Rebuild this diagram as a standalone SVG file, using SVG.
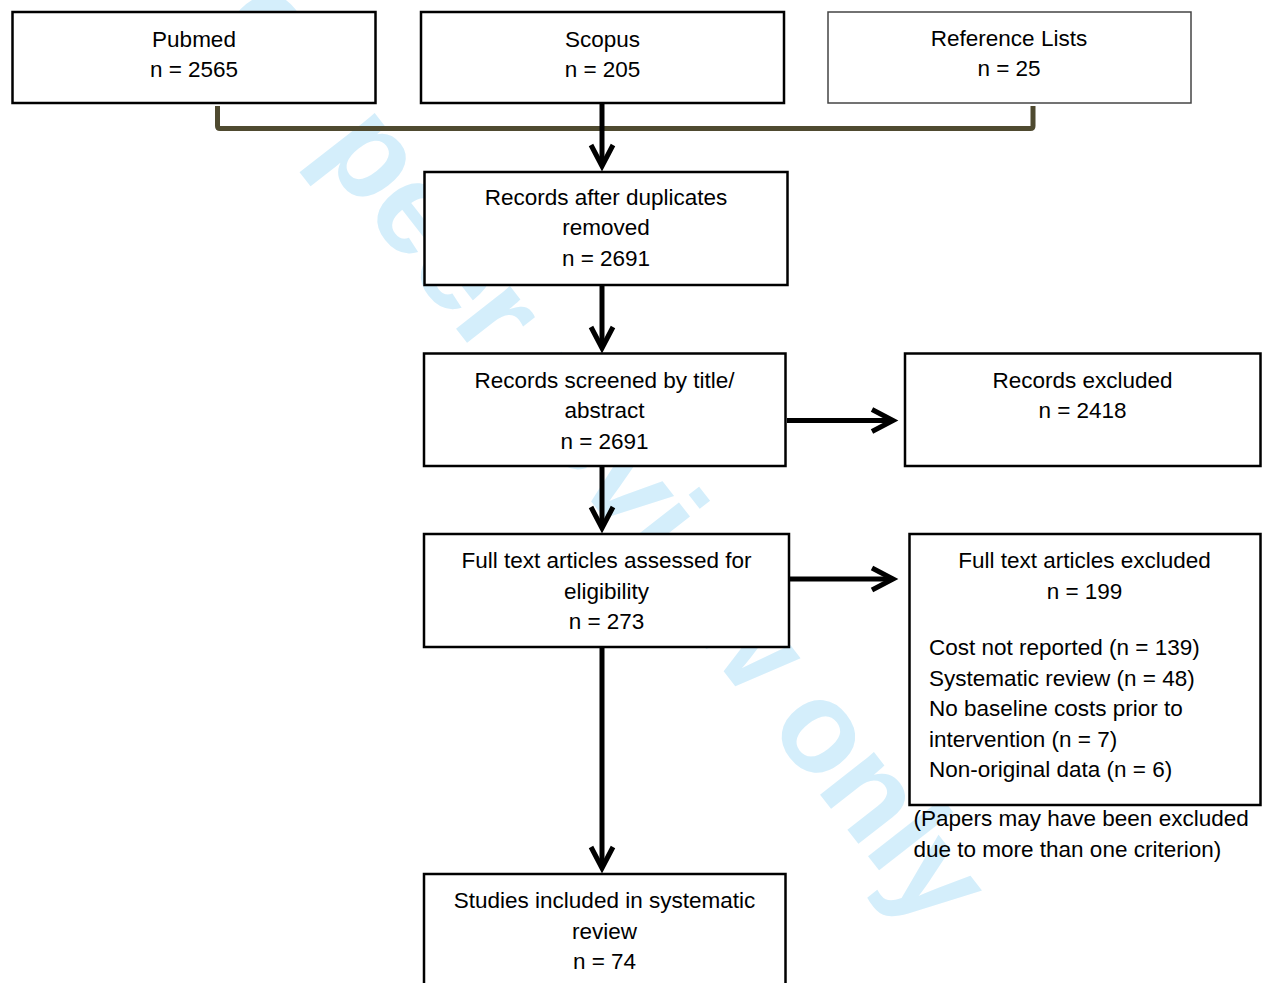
<svg xmlns="http://www.w3.org/2000/svg" width="1263" height="983" viewBox="0 0 1263 983">
<style>
.box{fill:#fff;stroke:#000;stroke-width:2.5}
.box2{fill:#fff;stroke:#444;stroke-width:1.5}
.t{font-family:"Liberation Sans",Arial,sans-serif;font-size:22.5px;fill:#000}
.c{text-anchor:middle}
.wm{font-family:"Liberation Sans",Arial,sans-serif;font-weight:bold;font-size:130px;fill:#d4eefb}
.ln{fill:none;stroke:#000;stroke-width:5}
.br{fill:none;stroke:#4f4a30;stroke-width:5;stroke-linejoin:round}
</style>
<defs>
<marker id="ah" markerUnits="userSpaceOnUse" viewBox="-30 -15 36 30" markerWidth="36" markerHeight="30" refX="0" refY="0" orient="auto" overflow="visible">
<path d="M-21,-11 L0,0 L-21,11" fill="none" stroke="#000" stroke-width="5" stroke-linejoin="miter"/>
</marker>
</defs>
<rect width="1263" height="983" fill="#fff"/>
<text class="wm" transform="translate(168,-40) rotate(52)" textLength="1235">For peer review only</text>
<g id="connectors">
<path class="br" d="M217.5,106 V126 Q217.5,128.5 220,128.5 H1030.5 Q1033,128.5 1033,126 V106"/>
<line class="ln" x1="602" y1="103" x2="602" y2="166" marker-end="url(#ah)"/>
<line class="ln" x1="602" y1="286" x2="602" y2="348" marker-end="url(#ah)"/>
<line class="ln" x1="602" y1="467" x2="602" y2="528" marker-end="url(#ah)"/>
<line class="ln" x1="602" y1="648" x2="602" y2="868" marker-end="url(#ah)"/>
<line class="ln" x1="787" y1="420.5" x2="893" y2="420.5" marker-end="url(#ah)"/>
<line class="ln" x1="790" y1="579" x2="893" y2="579" marker-end="url(#ah)"/>
</g>
<g id="pubmed"><rect class="box" x="12.5" y="12" width="363" height="91"/>
<text class="t c" x="194" y="46.5">Pubmed</text><text class="t c" x="194" y="77.3">n = 2565</text></g>
<g id="scopus"><rect class="box" x="421" y="12" width="363" height="91"/>
<text class="t c" x="602.5" y="46.5">Scopus</text><text class="t c" x="602.5" y="77.3">n = 205</text></g>
<g id="reflists"><rect class="box2" x="828" y="12" width="363" height="91"/>
<text class="t c" x="1009" y="45.5">Reference Lists</text><text class="t c" x="1009" y="76.3">n = 25</text></g>
<g id="dedup"><rect class="box" x="424.5" y="172" width="363" height="113"/>
<text class="t c" x="606" y="205">Records after duplicates</text><text class="t c" x="606" y="235">removed</text><text class="t c" x="606" y="265.5">n = 2691</text></g>
<g id="screened"><rect class="box" x="424" y="353.5" width="361.5" height="112.5"/>
<text class="t c" x="604.5" y="388">Records screened by title/</text><text class="t c" x="604.5" y="418">abstract</text><text class="t c" x="604.5" y="448.5">n = 2691</text></g>
<g id="excluded"><rect class="box" x="905" y="353.5" width="355.5" height="112.5"/>
<text class="t c" x="1082.5" y="388">Records excluded</text><text class="t c" x="1082.5" y="418">n = 2418</text></g>
<g id="fulltext"><rect class="box" x="424" y="534" width="365" height="113"/>
<text class="t c" x="606.5" y="568">Full text articles assessed for</text><text class="t c" x="606.5" y="598.5">eligibility</text><text class="t c" x="606.5" y="629">n = 273</text></g>
<g id="ftexcluded"><rect class="box" x="909.5" y="534" width="351" height="271"/>
<text class="t c" x="1084.5" y="568">Full text articles excluded</text><text class="t c" x="1084.5" y="598.5">n = 199</text>
<text class="t" x="929" y="655">Cost not reported (n = 139)</text>
<text class="t" x="929" y="685.5">Systematic review (n = 48)</text>
<text class="t" x="929" y="716">No baseline costs prior to</text>
<text class="t" x="929" y="746.5">intervention (n = 7)</text>
<text class="t" x="929" y="777">Non-original data (n = 6)</text></g>
<g id="note"><text class="t" x="913.5" y="826">(Papers may have been excluded</text><text class="t" x="913.5" y="856.5">due to more than one criterion)</text></g>
<g id="included"><rect class="box" x="424" y="874" width="361.5" height="130"/>
<text class="t c" x="604.5" y="908">Studies included in systematic</text><text class="t c" x="604.5" y="938.5">review</text><text class="t c" x="604.5" y="968.5">n = 74</text></g>
</svg>
